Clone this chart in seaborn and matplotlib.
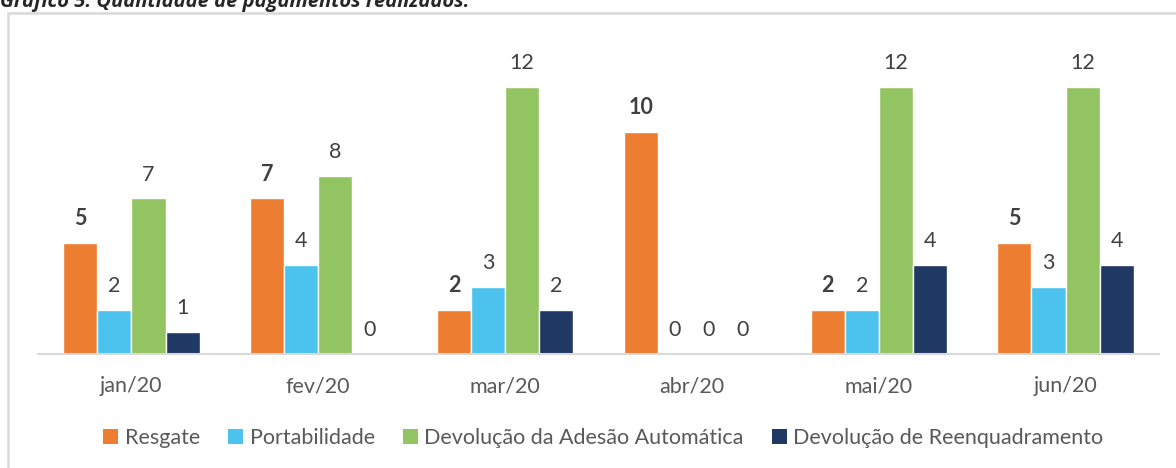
import pandas as pd
import seaborn as sns
import matplotlib.pyplot as plt
from matplotlib.patches import Rectangle, Patch

# Data
months = ['jan/20', 'fev/20', 'mar/20', 'abr/20', 'mai/20', 'jun/20']
resgate = [5, 7, 2, 10, 2, 5]
portabilidade = [2, 4, 3, 0, 2, 3]
devol_adesao = [7, 8, 12, 0, 12, 12]
devol_reenq = [1, 0, 2, 0, 4, 4]

series = ['Resgate', 'Portabilidade', 'Devolução da Adesão Automática',
          'Devolução de Reenquadramento']
colors = ['#ED7D31', '#4BC3EE', '#93C462', '#1F3864']

df = pd.DataFrame({'mes': months, series[0]: resgate, series[1]: portabilidade,
                   series[2]: devol_adesao, series[3]: devol_reenq})
df = df.melt(id_vars='mes', var_name='serie', value_name='qtd')

sns.set_style('white')
plt.rcParams['font.family'] = ['Lato', 'DejaVu Sans']

fig = plt.figure(figsize=(11.76, 4.68), dpi=100)
ax = fig.add_axes([38 / 1176, 114 / 468, 1121 / 1176, 300 / 468])

sns.barplot(data=df, x='mes', y='qtd', hue='serie', hue_order=series,
            order=months, palette=colors, width=0.73, saturation=1,
            legend=False, ax=ax)

for i, cont in enumerate(ax.containers):
    ax.bar_label(cont, fmt='%d', padding=10, fontsize=15.5, color='#404040',
                 fontweight='bold' if i == 0 else 'normal')

ax.set_ylim(0, 13.5)
ax.set_xlim(-0.5, 5.5)
ax.set_xlabel('')
ax.set_ylabel('')
ax.set_yticks([])
for s in ['left', 'top', 'right']:
    ax.spines[s].set_visible(False)
ax.spines['bottom'].set_color('#D9D9D9')
ax.spines['bottom'].set_linewidth(1.5)
ax.set_xticks([x + 0.5 for x in range(-1, 6)], minor=True)
ax.tick_params(axis='x', which='minor', length=6, width=1.5, color='#D9D9D9',
               direction='out')
ax.tick_params(axis='x', which='major', length=0, pad=16, labelsize=15.5,
               labelcolor='#595959')

handles = [Patch(facecolor=c, edgecolor='none') for c in colors]
fig.legend(handles, series, loc='center', bbox_to_anchor=(0.513, 0.064), ncol=4,
           frameon=False, fontsize=15.5, labelcolor='#595959',
           handlelength=0.7, handleheight=0.7, handletextpad=0.3,
           columnspacing=1.3)

# outer chart frame (runs off the right and bottom edges)
fig.patches.append(Rectangle((8 / 1176, -0.1), 1.2, 1.1 - 13 / 468,
                             transform=fig.transFigure, fill=False,
                             edgecolor='#D9D9D9', linewidth=1.8))

# title is partly cut off at the top, as in the original
fig.text(0.0, 1 - 7 / 468, 'Gráfico 5: Quantidade de pagamentos realizados.',
         fontsize=14.5, fontweight='bold', fontstyle='italic',
         family=['Open Sans', 'DejaVu Sans'], va='baseline', ha='left')

fig.savefig('out.png', dpi=100)
